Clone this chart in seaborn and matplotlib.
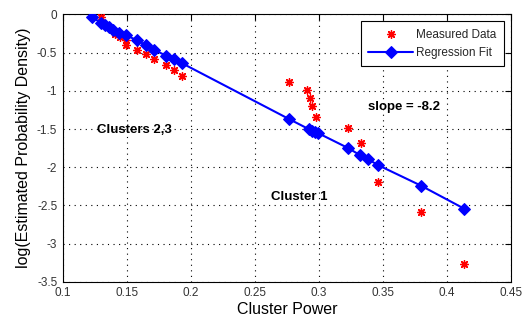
import matplotlib
matplotlib.use("Agg")
import matplotlib.pyplot as plt
import seaborn as sns
import pandas as pd

# Measured data (red asterisks)
meas_x = [0.1294, 0.1406, 0.1445, 0.1492, 0.1497, 0.158, 0.1646, 0.171, 0.1805, 0.1867, 0.1932,
          0.2768, 0.2909, 0.293, 0.2943, 0.2977, 0.3229, 0.3326, 0.3463, 0.3797, 0.4133]
meas_y = [-0.03, -0.25, -0.29, -0.33, -0.40, -0.46, -0.52, -0.59, -0.66, -0.73, -0.80,
          -0.89, -0.99, -1.10, -1.20, -1.34, -1.49, -1.68, -2.19, -2.59, -3.27]

# Regression fit (blue diamonds on line)
fit_x = [0.1229, 0.1295, 0.1330, 0.1362, 0.1393, 0.144, 0.149, 0.158, 0.1646, 0.171, 0.1805, 0.187, 0.1932,
         0.2768, 0.292, 0.295, 0.297, 0.299, 0.323, 0.332, 0.338, 0.346, 0.3797, 0.4133]
fit_y = [-0.037, -0.107, -0.135, -0.16, -0.20, -0.24, -0.27, -0.34, -0.40, -0.46, -0.54, -0.59, -0.64,
         -1.37, -1.50, -1.52, -1.535, -1.55, -1.75, -1.84, -1.89, -1.97, -2.24, -2.54]

xticks = [0.1, 0.15, 0.2, 0.25, 0.3, 0.35, 0.4, 0.45]
xtick_labels = ["0.1", "0.15", "0.2", "0.25", "0.3", "0.35", "0.4", "0.45"]
yticks = [0, -0.5, -1, -1.5, -2, -2.5, -3, -3.5]
ytick_labels = ["0", "-0.5", "-1", "-1.5", "-2", "-2.5", "-3", "-3.5"]

annotations = [("slope = -8.2", 0.338, -1.21), ("Clusters 2,3", 0.1266, -1.51), ("Cluster 1", 0.2625, -2.39)]

meas = pd.DataFrame({"x": meas_x, "y": meas_y})
fit = pd.DataFrame({"x": fit_x, "y": fit_y})

sns.set_theme(style="white")
plt.rcParams["font.family"] = ["Liberation Sans", "DejaVu Sans"]
plt.rcParams["axes.unicode_minus"] = False

fig = plt.figure(figsize=(5.24, 3.2), dpi=100)
ax = fig.add_axes([0.120, 0.119, 0.855, 0.836])

sns.scatterplot(data=meas, x="x", y="y", marker=(8, 2, 0), color="#ff0000", s=30,
                linewidth=1.0, ax=ax, label="Measured Data", zorder=3)
sns.lineplot(data=fit, x="x", y="y", sort=False, color="#0000ff", linewidth=1.5,
             marker="D", markersize=6, markeredgecolor="#0000ff", ax=ax,
             label="Regression Fit", zorder=4)

ax.set_xlim(0.1, 0.45)
ax.set_ylim(-3.5, 0)
ax.set_xticks(xticks)
ax.set_xticklabels(xtick_labels)
ax.set_yticks(yticks)
ax.set_yticklabels(ytick_labels)
ax.tick_params(direction="in", length=4, width=0.8, top=True, right=True,
               labelsize=8.5, labelcolor="#333333", color="black", pad=4)
ax.grid(True, linestyle=(0, (1, 4)), color="black", linewidth=0.8)
for sp in ax.spines.values():
    sp.set_color("black")
    sp.set_linewidth(0.8)

ax.set_xlabel("Cluster Power", fontsize=11.5, color="black", labelpad=2)
ax.set_ylabel("log(Estimated Probability Density)", fontsize=11.5, color="black", labelpad=4)

for txt, tx, ty in annotations:
    ax.text(tx, ty, txt, fontsize=9.5, fontweight="bold", color="black", va="center", ha="left")

leg = ax.legend(loc="upper right", fontsize=8.5, frameon=True, fancybox=False,
                borderaxespad=0.6, handlelength=3.8, labelspacing=0.55,
                borderpad=0.6, handletextpad=0.3, framealpha=1)
leg.get_frame().set_edgecolor("black")
leg.get_frame().set_linewidth(0.8)

fig.savefig("out.png", dpi=100)
